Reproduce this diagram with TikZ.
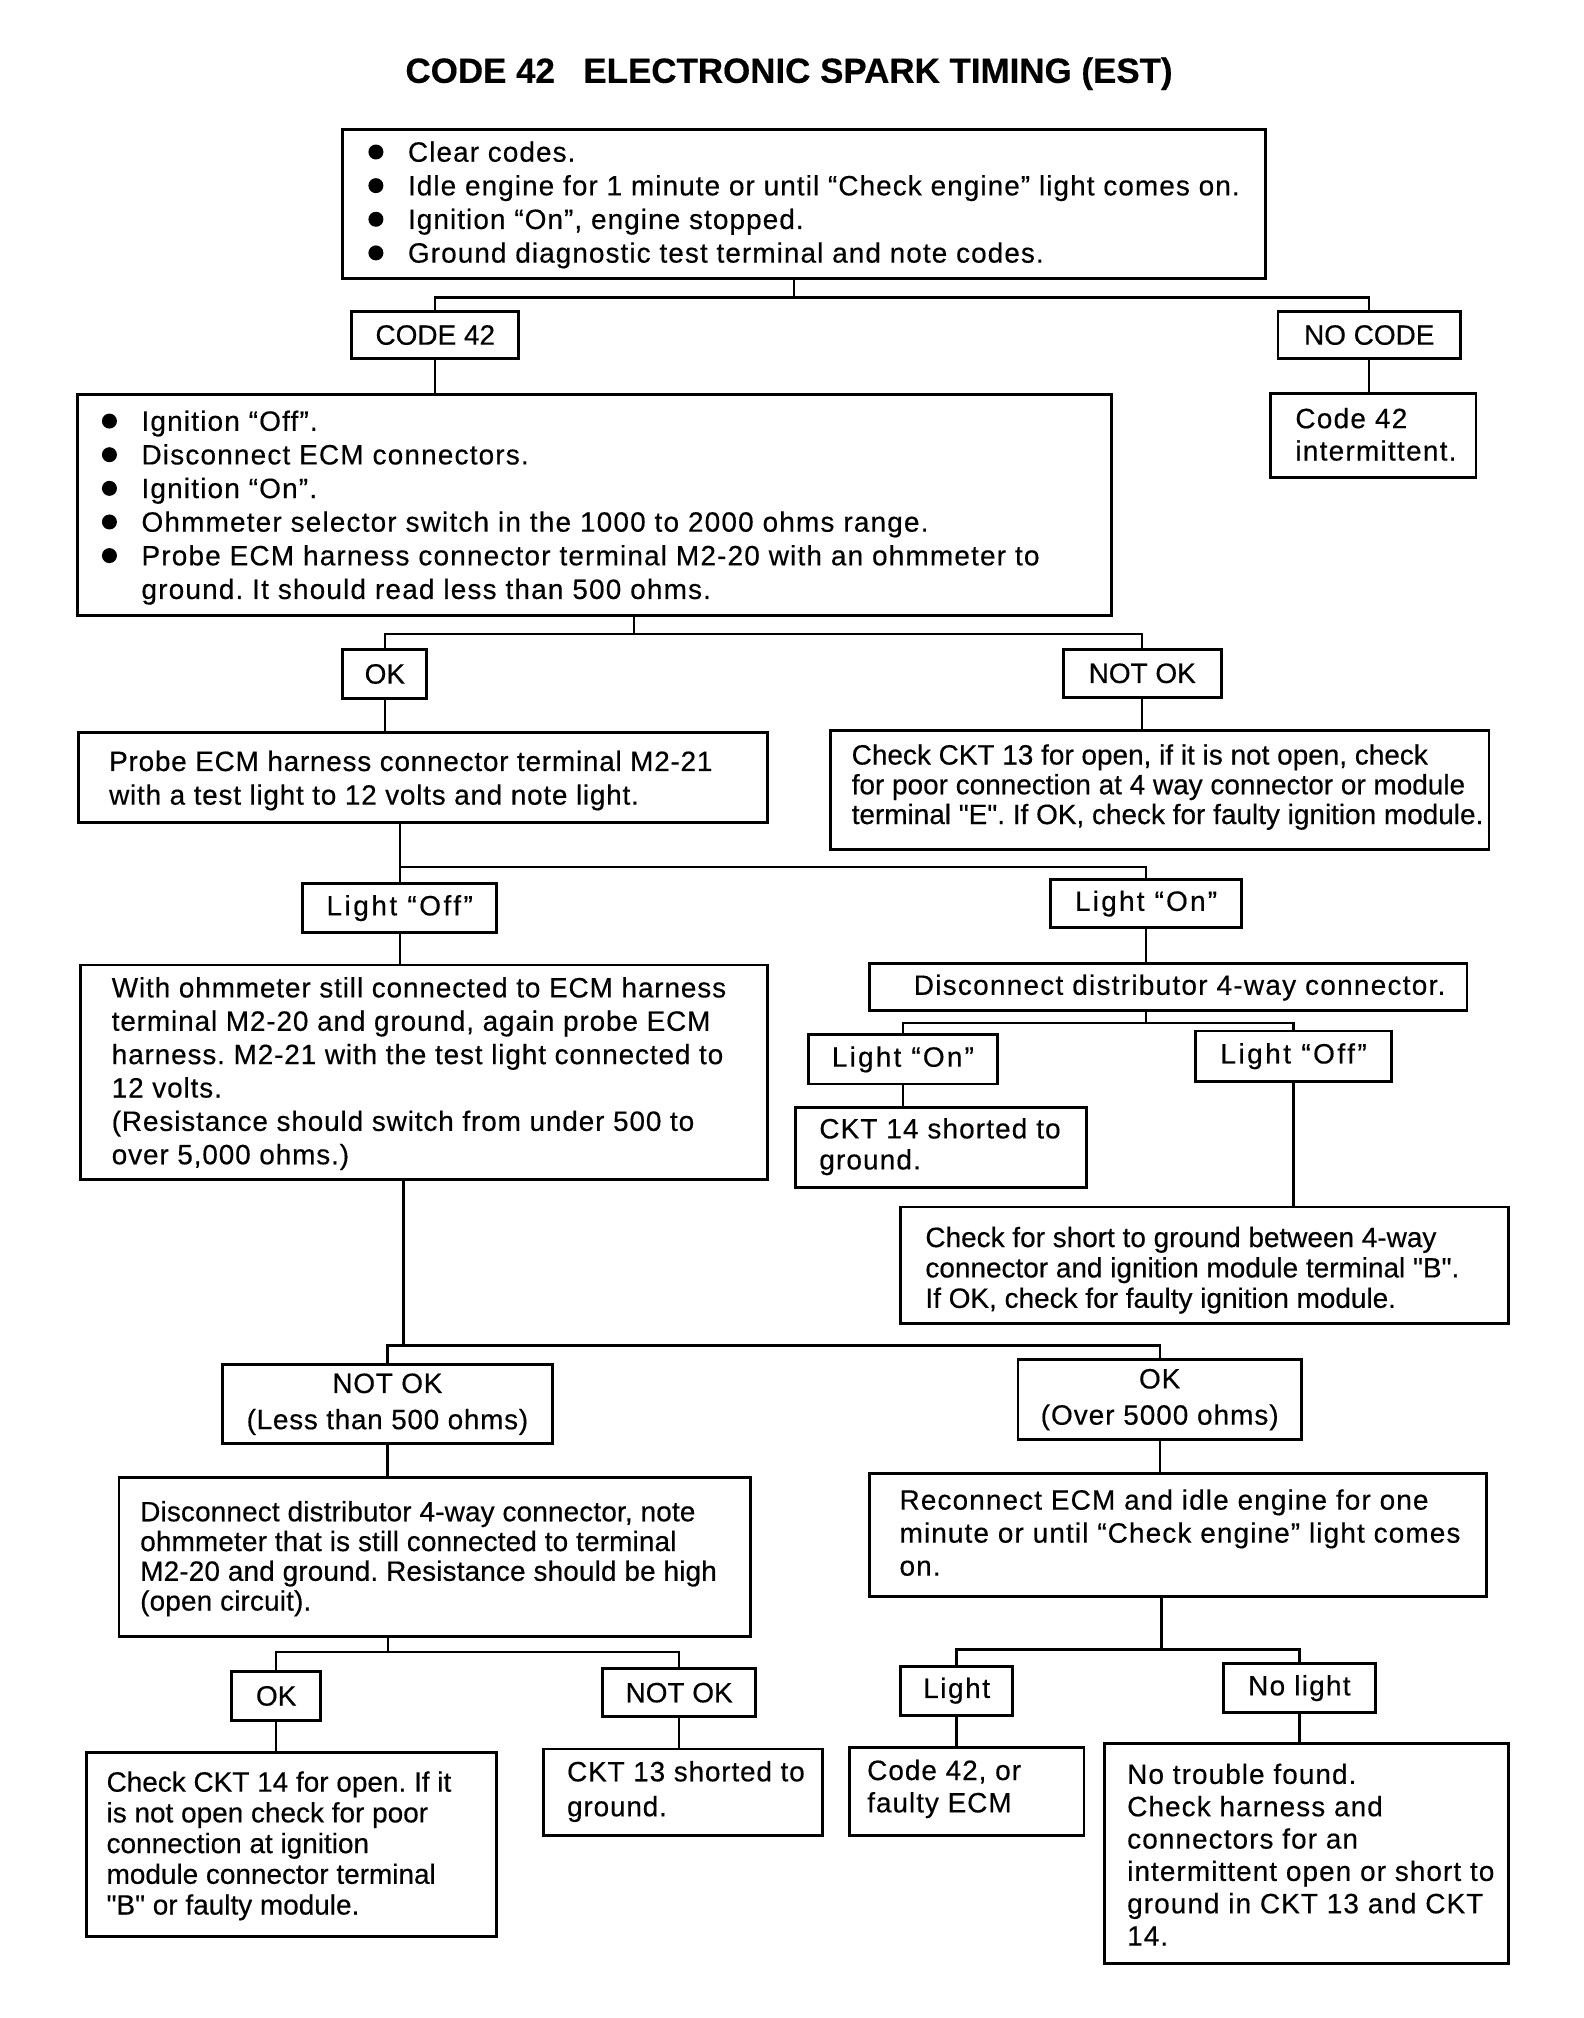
\documentclass[tikz,border=0pt]{standalone}
\usepackage{fontspec}
\setmainfont{Liberation Sans}[FakeBold=0.4, Ligatures=TeXOff]
\tikzset{
  box/.style={draw, line width=1.1pt, rectangle, inner sep=0pt, align=center, font=\fontsize{10.8}{14}\selectfont},
  bls/.style={font=\fontsize{10.8}{14}\selectfont\addfontfeatures{LetterSpace=#1}},
  txt/.style={inner sep=0pt, font=\fontsize{10.8}{13}\selectfont},
  ls/.style={font=\fontsize{10.8}{13}\selectfont\addfontfeatures{LetterSpace=#1}},
  conn/.style={line width=0.9pt},
  bul/.style={circle, fill, inner sep=0pt, minimum size=5.8pt},
}
\newcommand\mkbox[7][]{%
  \node[box,#1, minimum width={(#5-#3)*0.5pt}, minimum height={(#6-#4)*0.5pt}] (#2) at ({(#3+#5)/2},{(#4+#6)/2}) {#7};}
\newcommand\tlines[6][]{%
  \foreach \myl [count=\nn] in {#6}{\node[txt,#1, anchor=base west] (#2-\nn) at (#3,{#4+(\nn-1)*#5}) {\myl};}}
\newcommand\bullets[5]{%
  \foreach \nn in {1,...,#5}{\node[bul] (#1-\nn) at (#2,{#3+(\nn-1)*#4-7.5}) {};}}
\begin{document}
\frenchspacing
\begin{tikzpicture}[x=0.5pt,y=-0.5pt]
\useasboundingbox[fill=white] (0,0) rectangle (1224,1560);
\node[font=\bfseries\fontsize{13.5}{16}\selectfont, anchor=base, inner sep=0pt] (title) at (610,64) {CODE 42\hspace{11pt}ELECTRONIC SPARK TIMING (EST)};

% boxes
\mkbox{top}{265}{100}{978}{215}{}
\mkbox{code42}{272}{241}{401}{277}{CODE 42}
\mkbox{nocode}{988}{241}{1129}{277}{NO CODE}
\mkbox{box2}{60}{305}{859}{476}{}
\mkbox{inter}{982}{304}{1141}{369}{}
\mkbox{ok1}{265}{502}{330}{540}{OK}
\mkbox{notok1}{822}{502}{944}{539}{NOT OK}
\mkbox{probe}{61}{566}{593}{636}{}
\mkbox{ckta}{642}{565}{1151}{657}{}
\mkbox[bls=9]{loff1}{234}{683}{384}{721}{Light “Off”}
\mkbox[bls=8]{lon1}{812}{680}{960}{717}{Light “On”}
\mkbox{with}{62}{746}{593}{912}{}
\mkbox{disc1}{672}{745}{1134}{781}{}
\mkbox[bls=8]{lon2}{625}{800}{771}{838}{Light “On”}
\mkbox[bls=9]{loff2}{924}{797}{1076}{836}{Light “Off”}
\mkbox{cktb}{615}{856}{840}{918}{}
\mkbox{short}{696}{933}{1166}{1023}{}
\mkbox[bls=2.5]{notok2}{172}{1055}{427}{1116}{NOT OK\\(Less than 500 ohms)}
\mkbox[bls=3.5]{okover}{787}{1051}{1006}{1113}{OK\\(Over 5000 ohms)}
\mkbox{disc2}{92}{1142}{580}{1265}{}
\mkbox{reconn}{672}{1139}{1149}{1234}{}
\mkbox{ok3}{179}{1292}{248}{1330}{OK}
\mkbox{notok3}{466}{1290}{584}{1327}{NOT OK}
\mkbox[bls=5.5]{light}{696}{1288}{783}{1326}{Light}
\mkbox[bls=4.6]{nolight}{946}{1286}{1063}{1324}{No light}
\mkbox{cktc}{67}{1355}{384}{1497}{}
\mkbox{cktd}{420}{1352}{636}{1419}{}
\mkbox{codeor}{657}{1351}{838}{1419}{}
\mkbox{notrouble}{854}{1348}{1166}{1518}{}

% texts
\bullets{tb}{290.6}{125}{26}{4}
\tlines[ls=3.8]{tt}{315}{125}{26}{{Clear codes.},{Idle engine for 1 minute or until “Check engine” light comes on.},{Ignition “On”, engine stopped.},{Ground diagnostic test terminal and note codes.}}
\bullets{b2b}{84.6}{333}{26}{5}
\tlines[ls=4.2]{b2t}{109}{333}{26}{{Ignition “Off”.},{Disconnect ECM connectors.},{Ignition “On”.},{Ohmmeter selector switch in the 1000 to 2000 ohms range.},{Probe ECM harness connector terminal M2-20 with an ohmmeter to},{ground. It should read less than 500 ohms.}}
\tlines[ls=4.5]{intert}{1001}{331}{25}{{Code 42},{intermittent.}}
\tlines[ls=2.7]{probet}{84}{596}{26}{{Probe ECM harness connector terminal M2-21},{with a test light to 12 volts and note light.}}
\tlines{cktat}{658}{591}{23}{{Check CKT 13 for open, if it is not open, check},{for poor connection at 4 way connector or module},{terminal "E". If OK, check for faulty ignition module.}}
\tlines[ls=3.1]{witht}{86}{771}{25.8}{{With ohmmeter still connected to ECM harness},{terminal M2-20 and ground, again probe ECM},{harness. M2-21 with the test light connected to},{12 volts.},{(Resistance should switch from under 500 to},{over 5,000 ohms.)}}
\tlines[ls=4.5]{disc1t}{706}{769}{23}{{Disconnect distributor 4-way connector.}}
\tlines[ls=4]{cktbt}{633}{880}{24}{{CKT 14 shorted to},{ground.}}
\tlines{shortt}{715}{964}{23.5}{{Check for short to ground between 4-way},{connector and ignition module terminal "B".},{If OK, check for faulty ignition module.}}
\tlines[ls=0.5]{disc2t}{108}{1176}{23}{{Disconnect distributor 4-way connector, note},{ohmmeter that is still connected to terminal},{M2-20 and ground. Resistance should be high},{(open circuit).}}
\tlines[ls=4]{reconnt}{695}{1167}{25.5}{{Reconnect ECM and idle engine for one},{minute or until “Check engine” light comes},{on.}}
\tlines{cktct}{82}{1385}{23.75}{{Check CKT 14 for open. If it},{is not open check for poor},{connection at ignition},{module connector terminal},{"B" or faulty module.}}
\tlines[ls=3]{cktdt}{438}{1377}{27}{{CKT 13 shorted to},{ground.}}
\tlines[ls=3.5]{codeort}{670}{1376}{25}{{Code 42, or},{faulty ECM}}
\tlines[ls=3.8]{notroublet}{871}{1379}{25}{{No trouble found.},{Check harness and},{connectors for an},{intermittent open or short to},{ground in CKT 13 and CKT},{14.}}

% connectors
\coordinate (j1) at (614,230);
\draw[conn] (top.south -| j1) -- (j1);
\draw[conn] (code42.north) |- (j1) -| (nocode.north);
\draw[conn] (code42.south) -- (box2.north -| code42.south);
\draw[conn] (nocode.south) -- (inter.north -| nocode.south);
\coordinate (j2) at (490,490);
\draw[conn] (box2.south -| j2) -- (j2);
\draw[conn] (ok1.north) |- (j2) -| (notok1.north);
\draw[conn] (ok1.south) -- (probe.north -| ok1.south);
\draw[conn] (notok1.south) -- (ckta.north -| notok1.south);
\coordinate (j3) at (309,670);
\draw[conn] (probe.south -| loff1.north) -- (loff1.north);
\draw[conn] (loff1.north |- j3) -| (lon1.north);
\draw[conn] (loff1.south) -- (with.north -| loff1.south);
\draw[conn] (lon1.south) -- (disc1.north -| lon1.south);
\coordinate (j4) at (886,791);
\draw[conn] (disc1.south -| j4) -- (j4);
\draw[conn] (lon2.north) |- (j4) -| (loff2.north);
\draw[conn] (lon2.south) -- (cktb.north -| lon2.south);
\draw[conn] (loff2.south) -- (short.north -| loff2.south);
\coordinate (j5) at (312,1040);
\draw[conn] (with.south -| j5) -- (j5);
\draw[conn] (notok2.north) |- (j5) -| (okover.north);
\draw[conn] (notok2.south) -- (disc2.north -| notok2.south);
\draw[conn] (okover.south) -- (reconn.north -| okover.south);
\coordinate (j6) at (300,1277);
\draw[conn] (disc2.south -| j6) -- (j6);
\draw[conn] (ok3.north) |- (j6) -| (notok3.north);
\coordinate (j7) at (898,1275);
\draw[conn] (reconn.south -| j7) -- (j7);
\draw[conn] (light.north) |- (j7) -| (nolight.north);
\draw[conn] (ok3.south) -- (cktc.north -| ok3.south);
\draw[conn] (notok3.south) -- (cktd.north -| notok3.south);
\draw[conn] (light.south) -- (codeor.north -| light.south);
\draw[conn] (nolight.south) -- (notrouble.north -| nolight.south);
\end{tikzpicture}
\end{document}
